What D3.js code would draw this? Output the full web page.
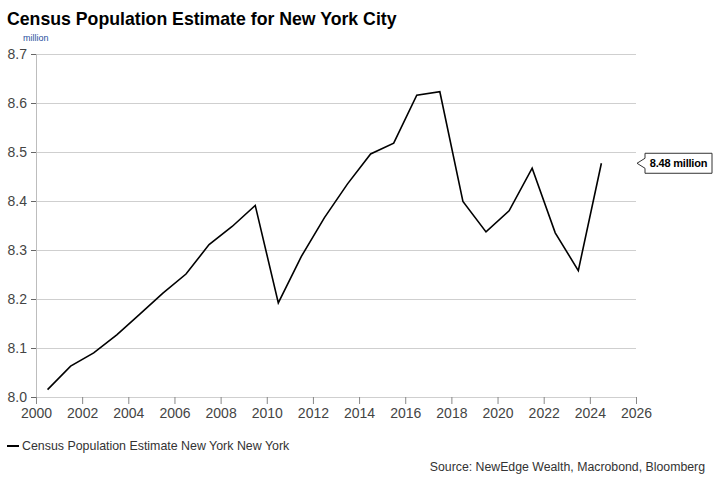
<!DOCTYPE html>
<html>
<head>
<meta charset="utf-8">
<script src="https://cdn.jsdelivr.net/npm/d3@7"></script>
<style>
  body { margin: 0; background: #fff; }
  text { font-family: "Liberation Sans", Arial, sans-serif; }
</style>
</head>
<body>
<div class="canvas"></div>
<script>
// data (mid-year points)
const years = [2000.5, 2001.5, 2002.5, 2003.5, 2004.5, 2005.5, 2006.5, 2007.5, 2008.5, 2009.5,
    2010.5, 2011.5, 2012.5, 2013.5, 2014.5, 2015.5, 2016.5, 2017.5, 2018.5, 2019.5,
    2020.5, 2021.5, 2022.5, 2023.5, 2024.5];
const population = [8.015, 8.063, 8.090, 8.127, 8.169, 8.212, 8.251, 8.311, 8.348, 8.391,
    8.192, 8.287, 8.366, 8.435, 8.496, 8.518, 8.616, 8.623, 8.399, 8.337,
    8.380, 8.467, 8.335, 8.258, 8.477];
const yTicks = [8.0, 8.1, 8.2, 8.3, 8.4, 8.5, 8.6, 8.7];
const xTicks = [2000, 2002, 2004, 2006, 2008, 2010, 2012, 2014, 2016, 2018, 2020, 2022, 2024, 2026];
const seriesName = 'Census Population Estimate New York New York';

const width = 721, height = 484;
const margin = { top: 54, right: 85, left: 36, bottom: 87 };
const graphWidth = width - margin.left - margin.right;
const graphHeight = height - margin.top - margin.bottom;

const svg = d3.select('.canvas')
    .append('svg')
    .attr('width', width)
    .attr('height', height);

svg.append('text')
    .attr('x', 7).attr('y', 25)
    .attr('font-size', 17.7).attr('font-weight', 'bold')
    .attr('fill', '#000')
    .text('Census Population Estimate for New York City');

svg.append('text')
    .attr('x', 23).attr('y', 41)
    .attr('font-size', 9)
    .attr('fill', '#1f4e9c')
    .text('million');

const graph = svg.append('g')
    .attr('transform', `translate(${margin.left}, ${margin.top})`);

const x = d3.scaleLinear().domain([2000, 2026]).range([0, graphWidth]);
const y = d3.scaleLinear().domain([8.0, 8.7]).range([graphHeight, 0]);

// gridlines
graph.append('g')
    .selectAll('line')
    .data(yTicks)
    .enter().append('line')
    .attr('x1', 0).attr('x2', graphWidth)
    .attr('y1', d => y(d) + 0.5).attr('y2', d => y(d) + 0.5)
    .attr('stroke', '#cfcfcf')
    .attr('stroke-width', 1);

// axes
const yAxis = d3.axisLeft(y).tickValues(yTicks).tickFormat(d3.format('.1f')).tickSize(5).tickPadding(4);
const xAxis = d3.axisBottom(x).tickValues(xTicks).tickFormat(d3.format('d')).tickSize(7).tickPadding(4);

const yAxisGroup = graph.append('g').call(yAxis);
const xAxisGroup = graph.append('g').attr('transform', `translate(0, ${graphHeight})`).call(xAxis);

yAxisGroup.select('.domain').attr('stroke', '#bdbdbd').attr('d', `M0.5,0V${graphHeight + 7}`);
xAxisGroup.select('.domain').remove();
[yAxisGroup, xAxisGroup].forEach(g => {
    g.selectAll('.tick line').attr('stroke', '#888');
    g.selectAll('text')
        .attr('font-family', '"Liberation Sans", Arial, sans-serif')
        .attr('font-size', 14)
        .attr('fill', '#444');
});
yAxisGroup.selectAll('.tick line').attr('stroke', '#666');

// line
const data = years.map((yr, i) => ({ yr, v: population[i] }));
const line = d3.line().x(d => x(d.yr)).y(d => y(d.v));
graph.append('path')
    .datum(data)
    .attr('d', line)
    .attr('fill', 'none')
    .attr('stroke', '#000')
    .attr('stroke-width', 1.6)
    .attr('stroke-linejoin', 'miter');

// last value label
const last = data[data.length - 1];
const ly = y(last.v);
const bx = graphWidth + 9, bw = 67, bh = 20;
graph.append('path')
    .attr('d', `M${graphWidth + 1},${ly} L${bx},${ly - 5} V${ly - bh / 2} H${bx + bw} V${ly + bh / 2} H${bx} V${ly + 5} Z`)
    .attr('fill', '#fff')
    .attr('stroke', '#333')
    .attr('stroke-width', 1);
graph.append('text')
    .attr('x', bx + bw / 2).attr('y', ly + 4)
    .attr('text-anchor', 'middle')
    .attr('font-size', 11).attr('font-weight', 'bold')
    .attr('letter-spacing', -0.2)
    .attr('fill', '#000')
    .text(d3.format('.2f')(last.v) + ' million');

// legend
svg.append('line')
    .attr('x1', 7).attr('x2', 19)
    .attr('y1', 446).attr('y2', 446)
    .attr('stroke', '#000').attr('stroke-width', 2);
svg.append('text')
    .attr('x', 22).attr('y', 450)
    .attr('font-size', 12.4).attr('fill', '#333')
    .text(seriesName);

// source
svg.append('text')
    .attr('x', 705).attr('y', 471)
    .attr('text-anchor', 'end')
    .attr('font-size', 12.3).attr('fill', '#333')
    .text('Source: NewEdge Wealth, Macrobond, Bloomberg');
</script>
</body>
</html>
